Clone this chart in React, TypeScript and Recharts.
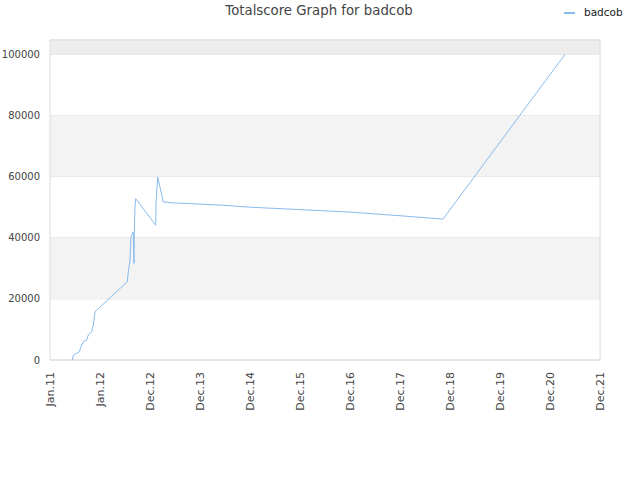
import React from 'react';
import { LineChart, Line, XAxis, YAxis, CartesianGrid, ReferenceArea } from 'recharts';

const xValues = [0.446, 0.466, 0.534, 0.586, 0.634, 0.666, 0.734, 0.766, 0.834, 0.866, 0.9, 1.066, 1.366, 1.546, 1.566, 1.6, 1.62, 1.666, 1.68, 1.686, 1.7, 1.714, 2.114, 2.12, 2.154, 2.266, 2.466, 2.766, 3.12, 3.4, 4.0, 5.0, 6.0, 7.0, 7.4, 7.86, 10.3];
const scores = [0, 1600, 2200, 2700, 4900, 6000, 6500, 8200, 9200, 11400, 15800, 18300, 22900, 25600, 28900, 32700, 40300, 41900, 31600, 42500, 50100, 52800, 44100, 51200, 59900, 51700, 51400, 51200, 50900, 50700, 50000, 49200, 48400, 47200, 46700, 46100, 100000];
const tickLabels = ['Jan.11', 'Jan.12', 'Dec.12', 'Dec.13', 'Dec.14', 'Dec.15', 'Dec.16', 'Dec.17', 'Dec.18', 'Dec.19', 'Dec.20', 'Dec.21'];
const yTicks = [0, 20000, 40000, 60000, 80000, 100000];
const yMax = 104700;
const seriesName = 'badcob';

const data = xValues.map((x, i) => ({ x, score: scores[i] }));
const xTicks = tickLabels.map((_, i) => i);

const FONT = '"DejaVu Sans", sans-serif';
const LINE_COLOR = '#88bbee';

const XTick = (props: any) => {
  const { x, y, payload } = props;
  return (
    <text
      x={x}
      y={y}
      transform={`rotate(-90, ${x}, ${y})`}
      textAnchor="end"
      dominantBaseline="central"
      fontSize={11}
      fontFamily={FONT}
      fill="#444"
    >
      {tickLabels[payload.value]}
    </text>
  );
};

export default function App() {
  return (
    <div style={{ position: 'absolute', left: 0, top: 0, width: 640, height: 480, background: '#fff' }}>
      <div
        style={{
          position: 'absolute',
          left: 0,
          top: 3,
          width: 638,
          textAlign: 'center',
          fontFamily: FONT,
          fontSize: 13.3,
          color: '#444',
        }}
      >
        Totalscore Graph for {seriesName}
      </div>
      <div
        style={{
          position: 'absolute',
          left: 564,
          top: 5,
          display: 'flex',
          alignItems: 'center',
          fontFamily: FONT,
          fontSize: 10.5,
          color: '#222',
        }}
      >
        <svg width={11} height={14} style={{ marginRight: 9 }}>
          <line x1={0} y1={8} x2={11} y2={8} stroke={LINE_COLOR} strokeWidth={2} />
        </svg>
        <span>{seriesName}</span>
      </div>
      <LineChart width={640} height={480} data={data} margin={{ top: 40, right: 40, bottom: 60, left: 0 }}>
        <ReferenceArea y1={20000} y2={40000} fill="#f3f3f3" fillOpacity={1} stroke="none" ifOverflow="visible" />
        <ReferenceArea y1={60000} y2={80000} fill="#f3f3f3" fillOpacity={1} stroke="none" ifOverflow="visible" />
        <ReferenceArea y1={100000} y2={yMax} fill="#ededed" fillOpacity={1} stroke="none" ifOverflow="visible" />
        <CartesianGrid vertical={false} stroke="#e0e0e0" />
        <ReferenceArea x1={0} x2={11} y1={0} y2={yMax} fill="none" stroke="#dcdcdc" ifOverflow="visible" />
        <XAxis
          dataKey="x"
          type="number"
          domain={[0, 11]}
          ticks={xTicks}
          interval={0}
          tick={<XTick />}
          tickLine={false}
          axisLine={false}
          tickSize={0}
          tickMargin={12}
          height={60}
        />
        <YAxis
          type="number"
          domain={[0, yMax]}
          ticks={yTicks}
          interval={0}
          tickLine={false}
          axisLine={false}
          tickSize={0}
          tickMargin={10}
          width={50}
          tick={{ fontSize: 10, fontFamily: FONT, fill: '#444' }}
        />
        <Line
          type="linear"
          dataKey="score"
          name={seriesName}
          stroke={LINE_COLOR}
          strokeWidth={1}
          dot={false}
          isAnimationActive={false}
        />
      </LineChart>
    </div>
  );
}
